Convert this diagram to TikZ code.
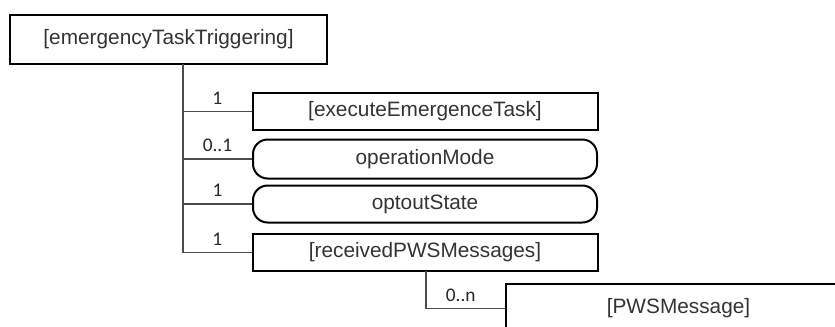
\documentclass[tikz,border=0pt]{standalone}
\usepackage{fontspec}
\setmainfont{Liberation Sans}
\newfontfamily\multfont{Carlito}
\usepackage{tikz}

\tikzset{
  elem/.style={draw=black,line width=1.5pt,text=black!80,inner sep=0pt,
    font=\fontsize{15.6}{18}\selectfont},
  attr/.style={elem,rounded corners=11pt},
  link/.style={draw=black!70,line width=0.8pt},
  mult/.style={anchor=south,inner sep=0pt,yshift=5pt,text=black!85,
    font=\multfont\fontsize{14.5}{16}\selectfont}
}

\begin{document}
\begin{tikzpicture}[x=0.75pt,y=-0.75pt]
\useasboundingbox (0,0) rectangle (835,326);
\clip (0,0) rectangle (835,326);
\node[elem,minimum width=237.75pt,minimum height=36.75pt] (root) at (168.5,39.5) {[emergencyTaskTriggering]};
\node[elem,minimum width=258.75pt,minimum height=27.75pt] (execTask) at (425,111.5) {[executeEmergenceTask]};
\node[attr,minimum width=258pt,minimum height=29.25pt] (opMode) at (425,159) {operationMode};
\node[attr,minimum width=258pt,minimum height=27.75pt] (optout) at (425,204) {optoutState};
\node[elem,minimum width=258.75pt,minimum height=27.75pt] (recvMsgs) at (425,252.5) {[receivedPWSMessages]};
\node[elem,minimum width=258.75pt,minimum height=36.75pt] (pwsMsg) at (678.5,308.5) {[PWSMessage]};
\coordinate (rootOut) at (183,64);
\coordinate (recvOut) at (426,271);
\foreach \to/\m in {execTask/1,opMode/0..1,optout/1,recvMsgs/1}
\draw[link] (rootOut) |- (\to.west) node[mult,pos=.75] {\m};
\draw[link] (recvOut) |- (pwsMsg.west) node[mult,pos=.72] {0..n};
\end{tikzpicture}
\end{document}
